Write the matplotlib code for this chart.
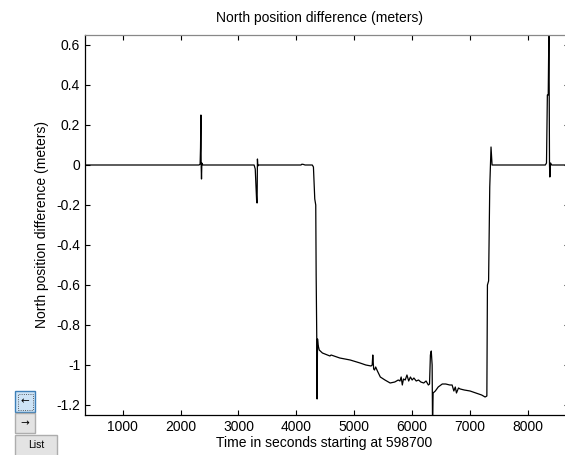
import matplotlib
matplotlib.use('Agg')
import matplotlib.pyplot as plt
from matplotlib.patches import Rectangle

# time (s after 598700) and north position difference (m)
times = [350, 2320, 2338, 2345, 2352, 2356, 2362, 2368, 2385,
         3270, 3290, 3305, 3315, 3322, 3328, 3335, 3350,
         4080, 4095, 4120, 4150, 4275, 4295, 4318, 4335, 4342, 4352, 4358, 4366,
         4375, 4395, 4450, 4580, 4600, 4750, 4930, 5100, 5200, 5290, 5310, 5320,
         5335, 5350, 5370, 5400, 5450, 5530, 5620, 5700, 5760, 5790, 5810, 5830,
         5850, 5880, 5910, 5940, 5970, 6000, 6030, 6070, 6110, 6150, 6200, 6240,
         6280, 6300, 6315, 6330, 6345, 6352, 6362, 6400, 6450, 6520, 6580, 6650,
         6690, 6720, 6745, 6765, 6800, 6830, 6900, 7000, 7100, 7200, 7260, 7290,
         7300, 7320, 7340, 7362, 7380, 7400, 8300, 8320, 8335, 8350, 8362, 8372,
         8378, 8390, 8410, 8700]
north_diff = [0.0, 0.0, 0.005, 0.085, 0.25, 0.0, -0.07, 0.01, 0.0,
              0.0, -0.02, -0.12, -0.185, -0.19, 0.03, -0.005, 0.0,
              0.0, 0.004, 0.003, 0.0, 0.0, -0.01, -0.17, -0.2, -0.55, -0.85, -1.17, -0.87,
              -0.9, -0.925, -0.94, -0.955, -0.95, -0.965, -0.975, -0.99, -1.0, -1.005, -1.0, -0.95,
              -1.02, -1.025, -1.01, -1.03, -1.06, -1.075, -1.09, -1.085, -1.075, -1.08, -1.06, -1.1,
              -1.07, -1.075, -1.05, -1.08, -1.06, -1.075, -1.065, -1.08, -1.075, -1.085, -1.09, -1.08,
              -1.1, -1.095, -0.95, -0.93, -1.0, -1.3, -1.14, -1.13, -1.11, -1.095, -1.095, -1.1,
              -1.1, -1.13, -1.11, -1.14, -1.115, -1.12, -1.125, -1.13, -1.14, -1.15, -1.16, -1.155,
              -0.6, -0.58, -0.11, 0.09, 0.0, 0.0, 0.0, 0.01, 0.35, 0.35, 0.7, 0.0,
              -0.06, 0.01, 0.0, 0.0]
xticks = [1000, 2000, 3000, 4000, 5000, 6000, 7000, 8000]
yticks = [-1.2, -1.0, -0.8, -0.6, -0.4, -0.2, 0.0, 0.2, 0.4, 0.6]
ytick_labels = ['-1.2', '-1', '-0.8', '-0.6', '-0.4', '-0.2', '0', '0.2', '0.4', '0.6']

plt.rcParams['font.family'] = ['Liberation Sans', 'DejaVu Sans']
plt.rcParams['font.size'] = 10
plt.rcParams['axes.unicode_minus'] = False

W, H = 565, 455
fig = plt.figure(figsize=(W / 100, H / 100), dpi=100)


def fx(px):
    return px / W


def fy(py):
    return 1 - py / H


left, top, right, bottom = 85, 35, 568.5, 415
axes = fig.add_axes([fx(left), fy(bottom), (right - left) / W, (bottom - top) / H])
axes.plot(times, north_diff, color='black', linewidth=0.9)
axes.set_xlim(350, 8700)
axes.set_ylim(-1.25, 0.65)
axes.set_xticks(xticks)
axes.set_xticklabels([str(t) for t in xticks])
axes.set_yticks(yticks)
axes.set_yticklabels(ytick_labels)
axes.tick_params(direction='in', length=3.6, width=0.8, top=True, right=True,
                 labelsize=10, pad=3.5)
for side in ['left', 'bottom']:
    axes.spines[side].set_linewidth(0.9)
for side in ['top', 'right']:
    axes.spines[side].set_color('#888888')
    axes.spines[side].set_linewidth(0.9)

fig.text(fx(319), fy(18), 'North position difference (meters)', ha='center', va='center', fontsize=10)
fig.text(fx(324), fy(443), 'Time in seconds starting at 598700', ha='center', va='center', fontsize=10)
fig.text(fx(42), fy(225), 'North position difference (meters)', ha='center', va='center',
         rotation=90, fontsize=10)

# GUI buttons at bottom left
buttons = [
    (15, 391, 20, 21, '\u2190', '#cde3f6', '#3d7fb8'),
    (15, 413, 20, 20, '\u2192', '#e3e3e3', '#adadad'),
    (15, 435, 42, 21, 'List', '#e3e3e3', '#adadad'),
]
for bx, by, bw, bh, label, face, edge in buttons:
    fig.patches.append(Rectangle((fx(bx), fy(by + bh)), bw / W, bh / H, transform=fig.transFigure,
                                 facecolor=face, edgecolor=edge, linewidth=1.0))
    fig.text(fx(bx + bw / 2), fy(by + bh / 2), label, ha='center', va='center', fontsize=7.5,
             family=['DejaVu Sans'] if label != 'List' else ['Liberation Sans'])
fig.patches.append(Rectangle((fx(17.5), fy(409.5)), 15 / W, 16 / H, transform=fig.transFigure,
                             facecolor='none', edgecolor='#333333', linewidth=0.6, linestyle=':'))

fig.savefig('out.png', dpi=100)
